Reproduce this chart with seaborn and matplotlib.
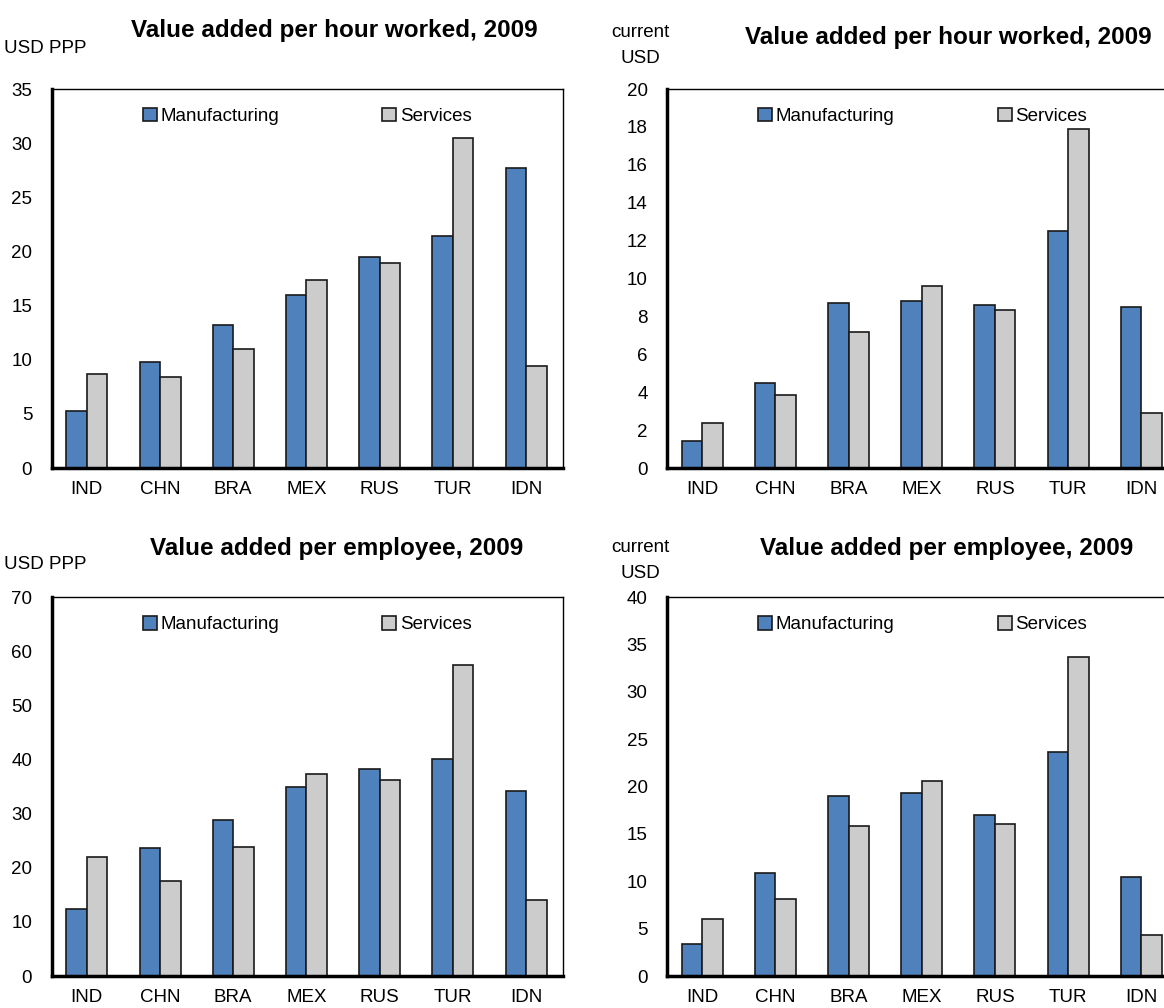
import matplotlib
matplotlib.use("Agg")
import matplotlib.pyplot as plt
import seaborn as sns
import pandas as pd

countries = ['IND', 'CHN', 'BRA', 'MEX', 'RUS', 'TUR', 'IDN']

hour_ppp_manuf = [5.3, 9.8, 13.2, 16.0, 19.5, 21.4, 27.7]
hour_ppp_serv = [8.7, 8.4, 11.0, 17.4, 18.9, 30.5, 9.4]

hour_usd_manuf = [1.45, 4.5, 8.7, 8.8, 8.6, 12.5, 8.5]
hour_usd_serv = [2.4, 3.85, 7.2, 9.6, 8.35, 17.9, 2.9]

emp_ppp_manuf = [12.4, 23.7, 28.9, 35.0, 38.3, 40.1, 34.2]
emp_ppp_serv = [22.0, 17.6, 23.9, 37.4, 36.3, 57.4, 14.0]

emp_usd_manuf = [3.4, 10.9, 19.0, 19.3, 17.0, 23.6, 10.5]
emp_usd_serv = [6.0, 8.1, 15.8, 20.6, 16.0, 33.7, 4.3]

sector_colors = {'Manufacturing': '#4F81BD', 'Services': '#CCCCCC'}

sns.set_theme(style="white")
plt.rcParams['font.family'] = ['Liberation Sans', 'DejaVu Sans']
plt.rcParams.update({'text.color': 'black', 'axes.labelcolor': 'black',
                     'xtick.color': 'black', 'ytick.color': 'black'})


def to_long(manuf, serv):
    return pd.DataFrame({
        'Country': countries * 2,
        'Sector': ['Manufacturing'] * len(countries) + ['Services'] * len(countries),
        'Value': list(manuf) + list(serv),
    })


def draw_panel(fig, rect, manuf, serv, title, unit, ymax, step, title_xy, unit_xy):
    ax = fig.add_axes(rect)
    df = to_long(manuf, serv)
    sns.barplot(data=df, x='Country', y='Value', hue='Sector', palette=sector_colors,
                saturation=1, width=0.56, edgecolor='#1a1a1a', linewidth=1.2, ax=ax)
    ax.set_xlim(-0.48, 6.5)
    ax.set_ylim(0, ymax)
    ax.set_yticks(range(0, ymax + 1, step))
    ax.set_xlabel('')
    ax.set_ylabel('')
    ax.tick_params(axis='y', direction='in', length=6, width=1.5, labelsize=13.5, pad=14)
    ax.tick_params(axis='x', length=0, labelsize=13.5, pad=9)
    for side in ['left', 'bottom']:
        ax.spines[side].set_linewidth(2.5)
        ax.spines[side].set_color('black')
    for side in ['top', 'right']:
        ax.spines[side].set_linewidth(1.0)
        ax.spines[side].set_color('black')
    ax.legend(loc='upper center', bbox_to_anchor=(0.5, 1.0), ncol=2, frameon=False,
              fontsize=13.5, handlelength=0.75, handleheight=0.75, handletextpad=0.2,
              columnspacing=5.5, borderaxespad=0.6)
    fig.text(title_xy[0], title_xy[1], title, ha='center', va='center',
             fontsize=17.5, fontweight='bold')
    fig.text(unit_xy[0], unit_xy[1], unit, ha='center', va='center', fontsize=13.5,
             linespacing=1.7)
    return ax


fig = plt.figure(figsize=(11.64, 10.08), dpi=100)

left_x, right_x = 0.0444, 0.573
width = 0.439
top_y, bot_y, height = 0.5357, 0.0317, 0.376

draw_panel(fig, [left_x, top_y, width, height], hour_ppp_manuf, hour_ppp_serv,
           'Value added per hour worked, 2009', 'USD PPP', 35, 5,
           (0.287, 0.970), (0.039, 0.952))
draw_panel(fig, [right_x, top_y, width, height], hour_usd_manuf, hour_usd_serv,
           'Value added per hour worked, 2009', 'current\nUSD', 20, 2,
           (0.815, 0.963), (0.55, 0.955))
draw_panel(fig, [left_x, bot_y, width, height], emp_ppp_manuf, emp_ppp_serv,
           'Value added per employee, 2009', 'USD PPP', 70, 10,
           (0.289, 0.456), (0.039, 0.440))
draw_panel(fig, [right_x, bot_y, width, height], emp_usd_manuf, emp_usd_serv,
           'Value added per employee, 2009', 'current\nUSD', 40, 5,
           (0.813, 0.456), (0.55, 0.444))

fig.savefig('out.png', dpi=100)
